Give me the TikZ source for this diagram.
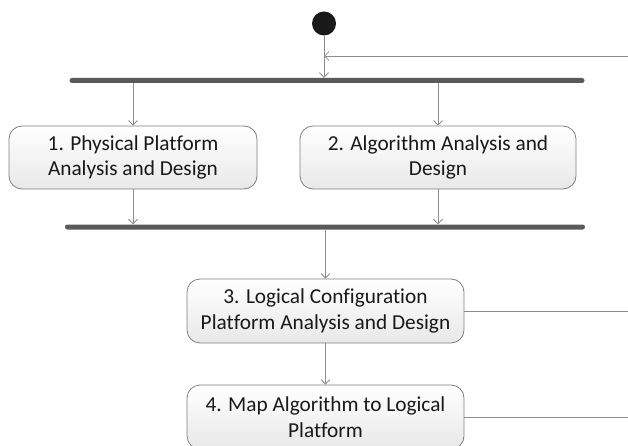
\documentclass[tikz,border=0pt]{standalone}
\usepackage{fontspec}
\setmainfont{Carlito}[Ligatures=NoCommon]
\usetikzlibrary{arrows.meta}
\definecolor{linegray}{HTML}{8C8C8C}
\definecolor{bargray}{HTML}{5A5A5A}
\definecolor{boxborder}{HTML}{7F7F7F}
\begin{document}
\begin{tikzpicture}[x=1pt,y=-1pt,
  conn/.style={draw=linegray,line width=0.9pt},
  arr/.style={conn,-{Straight Barb[length=4.5pt,width=9pt,line width=0.8pt]}},
  act/.style={draw=boxborder,line width=0.8pt,rounded corners=13pt,top color=white,bottom color=black!9,
    inner sep=0pt,align=center,font=\fontsize{21.3}{25.7}\selectfont,text=black!90},
  barnode/.style={fill=bargray,draw=none,rounded corners=2.4pt,minimum height=5pt,inner sep=0pt},
  startnode/.style={circle,fill=black!90,draw=none,minimum size=24pt,inner sep=0pt}]
\useasboundingbox (0,0) rectangle (628,446);
\node[startnode] (start) at (324,23.5) {};
\node[barnode,minimum width=515pt] (bar1) at (327,80.5) {};
\node[act,minimum width=248pt,minimum height=63pt] (box1) at (133,157.5) {1. Physical Platform\\Analysis and Design};
\node[act,minimum width=276pt,minimum height=63pt] (box2) at (438,157.5) {2. Algorithm Analysis and\\Design};
\node[barnode,minimum width=520pt] (bar2) at (325,227) {};
\node[act,minimum width=277pt,minimum height=64pt] (box3) at (325.5,311) {3. Logical Configuration\\Platform Analysis and Design};
\node[act,minimum width=277pt,minimum height=64pt] (box4) at (325.5,417) {4. Map Algorithm to Logical\\Platform};
\coordinate (ret) at (629,56);
\coordinate (r3) at (629,311);
\coordinate (r4) at (629,417);
\draw[arr] (start.south) -- (start.south |- bar1.north);
\draw[arr] (ret) -- (ret -| start);
\draw[arr] (box1.north |- bar1.south) -- (box1.north);
\draw[arr] (box2.north |- bar1.south) -- (box2.north);
\draw[arr] (box1.south) -- (box1.south |- bar2.north);
\draw[arr] (box2.south) -- (box2.south |- bar2.north);
\draw[arr] (box3.north |- bar2.south) -- (box3.north);
\draw[arr] (box3.south) -- (box4.north);
\draw[conn] (box3.east) -- (r3);
\draw[conn] (box4.east) -- (r4);
\end{tikzpicture}
\end{document}
